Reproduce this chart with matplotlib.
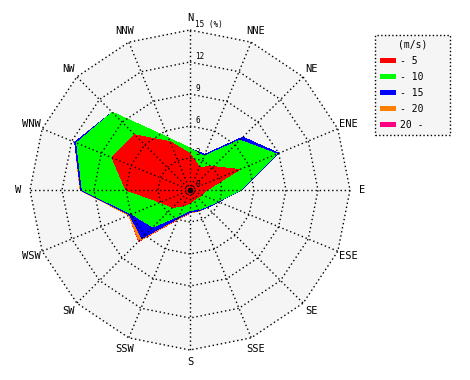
import numpy as np
import matplotlib.pyplot as plt
from matplotlib.patches import Patch

# 16 compass points, clockwise from north
directions = ["N", "NNE", "NE", "ENE", "E", "ESE", "SE", "SSE",
              "S", "SSW", "SW", "WSW", "W", "WNW", "NW", "NNW"]

# frequency (%) per speed class and direction
freq_0_5 = [3.4, 2.3, 3.1, 5.0, 1.6, 1.2, 1.0, 1.0,
            1.2, 1.6, 2.3, 3.0, 6.0, 7.9, 7.3, 4.9]
freq_5_10 = [0.5, 1.1, 3.5, 3.8, 3.1, 1.6, 1.2, 1.0,
             0.7, 1.0, 2.6, 2.9, 4.1, 3.6, 3.0, 0.4]
freq_10_15 = [0.0, 0.2, 0.4, 0.2, 0.1, 0.1, 0.1, 0.1,
              0.2, 0.25, 1.5, 0.2, 0.15, 0.2, 0.0, 0.0]
freq_15_20 = [0.0, 0.0, 0.0, 0.0, 0.0, 0.0, 0.0, 0.05,
              0.05, 0.1, 0.35, 0.1, 0.05, 0.0, 0.0, 0.0]
freq_20_up = [0.0, 0.0, 0.0, 0.0, 0.0, 0.0, 0.0, 0.0,
              0.0, 0.05, 0.05, 0.0, 0.0, 0.0, 0.0, 0.0]

speed_labels = ["- 5", "- 10", "- 15", "- 20", "20 -"]
colors = ["#ff0000", "#00ff00", "#0000ff", "#ff8000", "#ff0080"]
ring_values = [3, 6, 9, 12, 15]
rmax = 15

# ===============================
# Figure / axes (cartesian, polygon grid)
# ===============================
W, H = 470, 380
fig = plt.figure(figsize=(W / 100, H / 100), dpi=100)
fig.patch.set_facecolor("white")
ax = fig.add_axes([0, 0, 1, 1])
px = 160 / rmax          # pixels per percent
cx, cy = 190, 190        # centre of rose in pixels
ax.set_xlim(-cx / px, (W - cx) / px)
ax.set_ylim(-(H - cy) / px, cy / px)
ax.axis("off")

theta = np.deg2rad(np.arange(len(directions)) * 22.5)


def to_xy(r, closed=True):
    r = np.asarray(r, dtype=float)
    x = r * np.sin(theta)
    y = r * np.cos(theta)
    if closed:
        x = np.append(x, x[0])
        y = np.append(y, y[0])
    return x, y


# background polygon
ax.fill(*to_xy(np.full(len(directions), rmax)), color="#f5f5f5",
        lw=0, zorder=0, antialiased=False)

# stacked frequencies, outermost drawn first
classes = np.array([freq_0_5, freq_5_10, freq_10_15, freq_15_20, freq_20_up])
cum = np.cumsum(classes, axis=0)
for k in reversed(range(len(classes))):
    ax.fill(*to_xy(cum[k]), color=colors[k], lw=0, zorder=1,
            antialiased=False)

# ===============================
# Grid
# ===============================
dots = (0, (1, 2))
for r in ring_values:
    ax.plot(*to_xy(np.full(len(directions), r)), color="k", lw=1,
            linestyle=dots, zorder=2)
for t in theta:
    ax.plot([0, rmax * np.sin(t)], [0, rmax * np.cos(t)], color="k",
            lw=1, linestyle=dots, zorder=2)
ax.plot(0, 0, "o", color="k", ms=3, zorder=3)

mono = "DejaVu Sans Mono"
for name, t in zip(directions, theta):
    ax.text(16.1 * np.sin(t), 16.1 * np.cos(t), name, ha="center",
            va="center", fontsize=7.5, family=mono, zorder=4)

for r in ring_values:
    lab = f"{r} (%)" if r == rmax else str(r)
    ax.text(0.5, r + 0.05, lab, ha="left", va="bottom", fontsize=5.5,
            family=mono, zorder=4)
ax.text(0.5, 0.05, "0", ha="left", va="bottom", fontsize=5.5,
        family=mono, zorder=4)

# ===============================
# Legend
# ===============================
handles = [Patch(facecolor=c, edgecolor="none") for c in colors]
leg = fig.legend(
    handles, speed_labels,
    title="(m/s)",
    loc="upper left",
    bbox_to_anchor=(375 / W, 1 - 35 / H, 75 / W, 0),
    mode="expand",
    prop={"family": mono, "size": 7},
    title_fontproperties={"family": mono, "size": 7},
    frameon=True, fancybox=False, framealpha=1,
    edgecolor="k", facecolor="#f5f5f5",
    handlelength=1.65, handleheight=0.5, handletextpad=0.4,
    labelspacing=0.62, borderpad=0.5, borderaxespad=0,
)
leg.get_frame().set_linestyle(":")
leg.get_frame().set_linewidth(1)

fig.savefig("out.png", dpi=100)
